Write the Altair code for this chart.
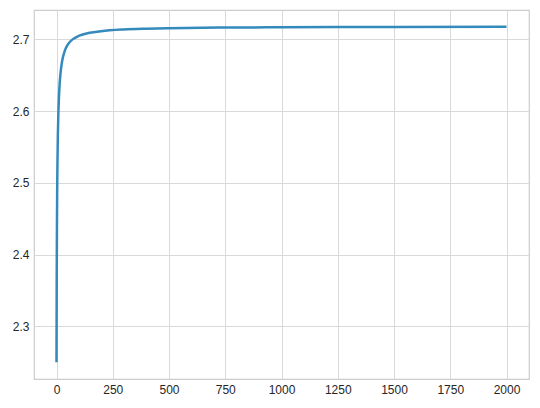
import altair as alt
import pandas as pd

# values
x_vals = [0, 1, 2, 3, 4, 6, 8, 11, 14, 18, 23, 28, 38, 48, 58, 73, 98, 148, 198,
          298, 398, 498, 748, 998, 1248, 1498, 1998, 2000]
y_vals = [2.2500, 2.3704, 2.4414, 2.4883, 2.5216, 2.5658, 2.5937, 2.6206, 2.6379,
          2.6533, 2.6658, 2.6743, 2.6851, 2.6916, 2.6960, 2.7004, 2.7048, 2.7093,
          2.7115, 2.7138, 2.7149, 2.7156, 2.7165, 2.7169, 2.7172, 2.7174, 2.7176,
          2.7176]
x_ticks = [0, 250, 500, 750, 1000, 1250, 1500, 1750, 2000]
y_ticks = [2.3, 2.4, 2.5, 2.6, 2.7]

df = pd.DataFrame({"x": x_vals, "y": y_vals})

chart = alt.Chart(df).mark_line(
    color="#348ABD", strokeWidth=2.5, interpolate="monotone"
).encode(
    x=alt.X("x:Q", scale=alt.Scale(domain=[-100, 2100], nice=False, zero=False),
            axis=alt.Axis(values=x_ticks, title=None, format="d")),
    y=alt.Y("y:Q", scale=alt.Scale(domain=[2.2266, 2.7410], nice=False, zero=False),
            axis=alt.Axis(values=y_ticks, title=None, format=".1f")),
).properties(
    width=495, height=369,
    autosize=alt.AutoSizeParams(type="none"),
    padding={"left": 26, "top": 2, "right": 3, "bottom": 21},
).configure_view(
    stroke="#cccccc", strokeWidth=1.2, fill="white"
).configure_axis(
    domain=False, ticks=False, grid=True, gridColor="#d9d9d9", gridWidth=1,
    labelFont="Liberation Sans", labelFontSize=12, labelColor="#262626",
    labelPadding=5
)

chart.save("out.html", embed_options={"renderer": "svg", "actions": False})
